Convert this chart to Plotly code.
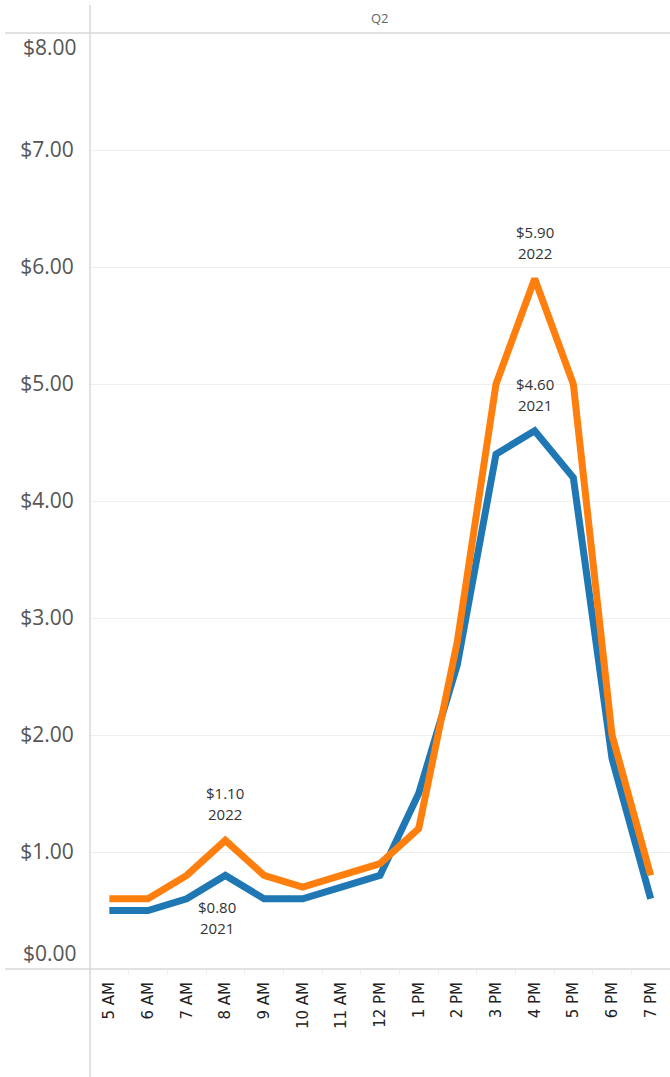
import plotly.graph_objects as go

hours = ["5 AM", "6 AM", "7 AM", "8 AM", "9 AM", "10 AM", "11 AM", "12 PM",
         "1 PM", "2 PM", "3 PM", "4 PM", "5 PM", "6 PM", "7 PM"]
values_2021 = [0.5, 0.5, 0.6, 0.8, 0.6, 0.6, 0.7, 0.8, 1.5, 2.6, 4.4, 4.6, 4.2, 1.8, 0.6]
values_2022 = [0.6, 0.6, 0.8, 1.1, 0.8, 0.7, 0.8, 0.9, 1.2, 2.8, 5.0, 5.9, 5.0, 2.0, 0.8]
y_ticks = [0, 1, 2, 3, 4, 5, 6, 7, 8]
panel_title = "Q2"

BLUE = "#1f77b4"
ORANGE = "#ff7f0e"
GRID = "#efefef"
RULE = "#d9d9d9"

W, H = 670, 1077
L, R, T, B = 90, 0, 33, 108
pw = W - L - R
ph = H - T - B

x_idx = list(range(len(hours)))

fig = go.Figure()
fig.add_trace(go.Scatter(x=x_idx, y=values_2021, mode="lines", name="2021",
                         line=dict(color=BLUE, width=7), hoverinfo="skip"))
fig.add_trace(go.Scatter(x=x_idx, y=values_2022, mode="lines", name="2022",
                         line=dict(color=ORANGE, width=7), hoverinfo="skip"))

def px(xpix):
    return (xpix - L) / pw

def py(ypix):
    return 1 - (ypix - T) / ph

shapes = [
    dict(type="line", xref="paper", yref="paper", x0=px(5), x1=px(670), y0=1, y1=1,
         line=dict(color=RULE, width=1.5)),
    dict(type="line", xref="paper", yref="paper", x0=px(5), x1=px(670), y0=0, y1=0,
         line=dict(color=RULE, width=1.5)),
    dict(type="line", xref="paper", yref="paper", x0=0, x1=0, y0=py(1077), y1=py(5),
         line=dict(color=RULE, width=1.5)),
]

annotations = [
    dict(text=panel_title, xref="paper", yref="paper", x=0.5, y=py(18),
         showarrow=False, font=dict(family="Open Sans", size=13, color="#666666"),
         yanchor="middle"),
]

lab_font = dict(family="Open Sans", size=15, color="#333333")
def year_label(i, vals, year, above=True, xshift=0):
    v = vals[i]
    if above:
        # year line nearest the point, value line above it
        base = 14
        annotations.append(dict(text=str(year), x=i, y=v, xref="x", yref="y",
                                showarrow=False, yanchor="bottom", yshift=base,
                                xshift=xshift, font=lab_font))
        annotations.append(dict(text=f"${v:.2f}", x=i, y=v, xref="x", yref="y",
                                showarrow=False, yanchor="bottom", yshift=base + 21,
                                xshift=xshift, font=lab_font))
    else:
        base = -20
        annotations.append(dict(text=f"${v:.2f}", x=i, y=v, xref="x", yref="y",
                                showarrow=False, yanchor="top", yshift=base,
                                xshift=xshift, font=lab_font))
        annotations.append(dict(text=str(year), x=i, y=v, xref="x", yref="y",
                                showarrow=False, yanchor="top", yshift=base - 21,
                                xshift=xshift, font=lab_font))

year_label(3, values_2022, "2022", True)
year_label(3, values_2021, "2021", False, xshift=-8)
year_label(11, values_2022, "2022", True)
year_label(11, values_2021, "2021", True)

ytick_font = dict(family="Open Sans", size=21, color="#555555")
annotations.append(dict(text="$0.00", x=0, y=y_ticks[0], xref="paper", yref="y",
                        xanchor="right", yanchor="middle", xshift=-11, yshift=16,
                        showarrow=False, font=ytick_font))
annotations.append(dict(text="$8.00", x=0, y=y_ticks[-1], xref="paper", yref="y",
                        xanchor="right", yanchor="middle", xshift=-11, yshift=-14,
                        showarrow=False, font=ytick_font))

fig.update_layout(
    width=W, height=H,
    margin=dict(l=L, r=R, t=T, b=B, pad=0),
    paper_bgcolor="white", plot_bgcolor="white",
    showlegend=False,
    shapes=shapes,
    annotations=annotations,
    xaxis=dict(
        range=[-0.5, len(hours) - 0.5],
        tickmode="array", tickvals=x_idx, ticktext=hours,
        tickangle=-90, ticks="outside", ticklen=6, tickcolor="rgba(0,0,0,0)",
        tickfont=dict(family="DejaVu Sans", size=15, color="#222222"),
        showgrid=False, zeroline=False, showline=False,
        minor=dict(tickmode="linear", tick0=-0.5, dtick=1, ticks="outside",
                   ticklen=5, tickcolor="#eeeeee", showgrid=False),
        fixedrange=True,
    ),
    yaxis=dict(
        range=[0, 8],
        tickmode="array", tickvals=y_ticks[1:-1],
        ticktext=[f"${v:.2f}" for v in y_ticks[1:-1]],
        tickfont=ytick_font,
        ticks="outside", ticklen=11, tickcolor="rgba(0,0,0,0)",
        showgrid=True, gridcolor=GRID, gridwidth=1,
        zeroline=False, showline=False, fixedrange=True,
    ),
)

fig.write_html("out.html", config={"displayModeBar": False},
               post_script="document.body.style.margin='0';document.body.style.overflow='hidden';")
